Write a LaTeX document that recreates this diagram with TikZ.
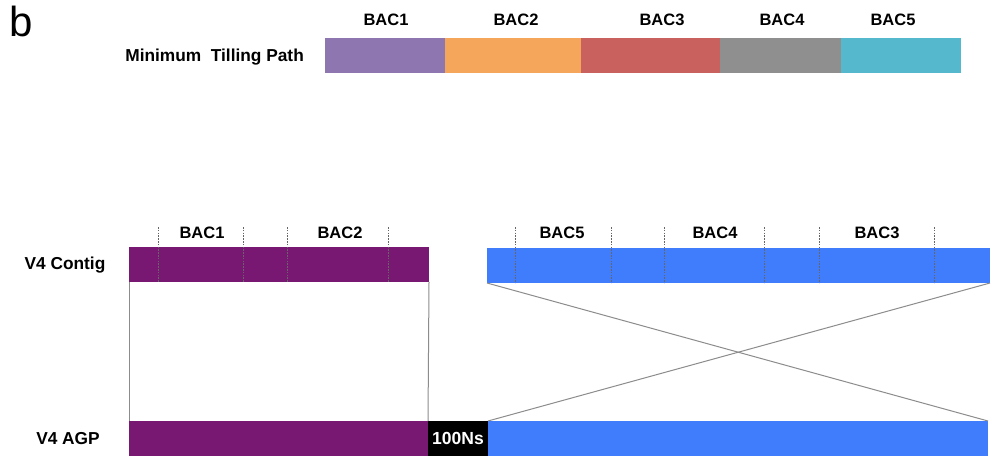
\documentclass[tikz,border=0pt]{standalone}
\usepackage{fontspec}
\setmainfont{Liberation Sans}
\begin{document}
\begin{tikzpicture}[x=1pt,y=-1pt,
  bar/.style={draw=none,inner sep=0pt,outer sep=0pt,anchor=north west,minimum height=35pt},
  lab/.style={font=\fontsize{16.5}{18}\selectfont\bfseries,inner sep=0pt},
  rowlab/.style={font=\fontsize{17.3}{19}\selectfont\bfseries,inner sep=0pt},
  tick/.style={draw=black!60,dashed,dash pattern=on 1.6pt off 1.2pt,line width=0.8pt},
  conn/.style={draw=black!45,line width=1pt}]
\definecolor{cPurL}{RGB}{142,118,176}
\definecolor{cOra}{RGB}{245,166,90}
\definecolor{cRed}{RGB}{201,98,95}
\definecolor{cGry}{RGB}{143,143,143}
\definecolor{cCya}{RGB}{86,184,204}
\definecolor{cPurD}{RGB}{120,24,114}
\definecolor{cBlu}{RGB}{64,125,252}
\useasboundingbox (0,0) rectangle (992,465);
\fill[white] (0,0) rectangle (992,465);
% panel letter
\node[font=\fontsize{42}{44}\selectfont,inner sep=0pt,anchor=base] (b) at (21.5,37) {b};
% top row
\node[rowlab,anchor=east] (mtp) at (304,57) {Minimum\ \ Tilling Path};
\node[bar,fill=cPurL,minimum width=120pt] (t1) at (325,38) {};
\node[bar,fill=cOra,minimum width=136pt] (t2) at (445,38) {};
\node[bar,fill=cRed,minimum width=139pt] (t3) at (581,38) {};
\node[bar,fill=cGry,minimum width=121pt] (t4) at (720,38) {};
\node[bar,fill=cCya,minimum width=120pt] (t5) at (841,38) {};
\node[lab] (l1) at (386,20) {BAC1};
\node[lab] (l2) at (516,20) {BAC2};
\node[lab] (l3) at (662,20) {BAC3};
\node[lab] (l4) at (782,20) {BAC4};
\node[lab] (l5) at (893,20) {BAC5};
% V4 contig row
\node[rowlab] (vc) at (65,265) {V4 Contig};
\node[bar,fill=cPurD,minimum width=300pt] (cp) at (129,247) {};
\node[bar,fill=cBlu,minimum width=503pt] (cb) at (487,248) {};
\foreach \x in {158,243,287,388} \draw[tick] (\x,227) -- (\x,282);
\foreach \x in {515,611,664,764,819,934} \draw[tick] (\x,227) -- (\x,283);
\node[lab] (c1) at (202,233) {BAC1};
\node[lab] (c2) at (340,233) {BAC2};
\node[lab] (c5) at (562,233) {BAC5};
\node[lab] (c4) at (715,233) {BAC4};
\node[lab] (c3) at (877,233) {BAC3};
% V4 AGP row
\node[rowlab] (va) at (68,439) {V4 AGP};
\node[bar,fill=cPurD,minimum width=299pt] (ap) at (129,421) {};
\node[bar,fill=black,minimum width=60pt,font=\fontsize{17.5}{19}\selectfont\bfseries,text=white] (an) at (428,421) {100Ns};
\node[bar,fill=cBlu,minimum width=500pt] (ab) at (488,421) {};
% connectors
\draw[conn] (cp.south west) -- (ap.north west);
\draw[conn] (cp.south east) -- (ap.north east);
\draw[conn] (cb.south west) -- (ab.north east);
\draw[conn] (cb.south east) -- (ab.north west);
\end{tikzpicture}
\end{document}
